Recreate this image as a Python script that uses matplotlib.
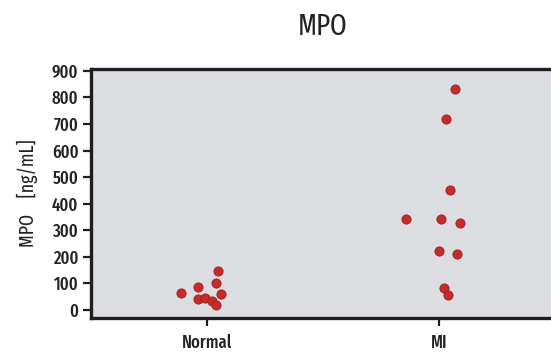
import matplotlib
matplotlib.use('Agg')
import matplotlib.pyplot as plt

# data
groups = ['Normal', 'MI']
normal_x = [0.05, 0.04, -0.04, -0.11, 0.06, -0.04, -0.01, 0.02, 0.04]
normal_y = [148, 102, 88, 64, 61, 40, 45, 34, 18]
mi_x = [1.07, 1.03, 1.05, 0.86, 1.01, 1.09, 1.00, 1.08, 1.02, 1.04]
mi_y = [833, 718, 452, 341, 344, 328, 223, 210, 82, 56]
yticks = [0, 100, 200, 300, 400, 500, 600, 700, 800, 900]

plt.rcParams['font.family'] = ['Fira Sans Extra Condensed', 'DejaVu Sans']
plt.rcParams['font.weight'] = 500

fig = plt.figure(figsize=(5.51, 3.55), dpi=100)
ax = fig.add_axes([0.165, 0.103, 0.842, 0.704])
ax.set_facecolor('#dcdde0')

red = '#c62a2a'
ax.scatter(normal_x, normal_y, s=44, color=red, edgecolor='#9e1f1f', linewidth=0.6, zorder=3)
ax.scatter(mi_x, mi_y, s=44, color=red, edgecolor='#9e1f1f', linewidth=0.6, zorder=3)

ax.set_xlim(-0.5, 1.5)
ax.set_ylim(-32, 909)
ax.set_xticks([0, 1])
ax.set_xticklabels(groups)
ax.set_yticks(yticks)

for s in ax.spines.values():
    s.set_linewidth(2.4)
    s.set_color('#1e1e1e')

ax.tick_params(axis='both', direction='out', length=6, width=1.6, color='#1e1e1e',
               labelsize=13, labelcolor='#222222')
ax.tick_params(axis='y', pad=3)
ax.tick_params(axis='x', pad=5)

ax.set_ylabel('MPO    [ng/mL]', fontsize=14, color='#222222', labelpad=10)
ax.set_title('MPO', fontsize=21, color='#222222', pad=24)

fig.savefig('out.png', dpi=100)
